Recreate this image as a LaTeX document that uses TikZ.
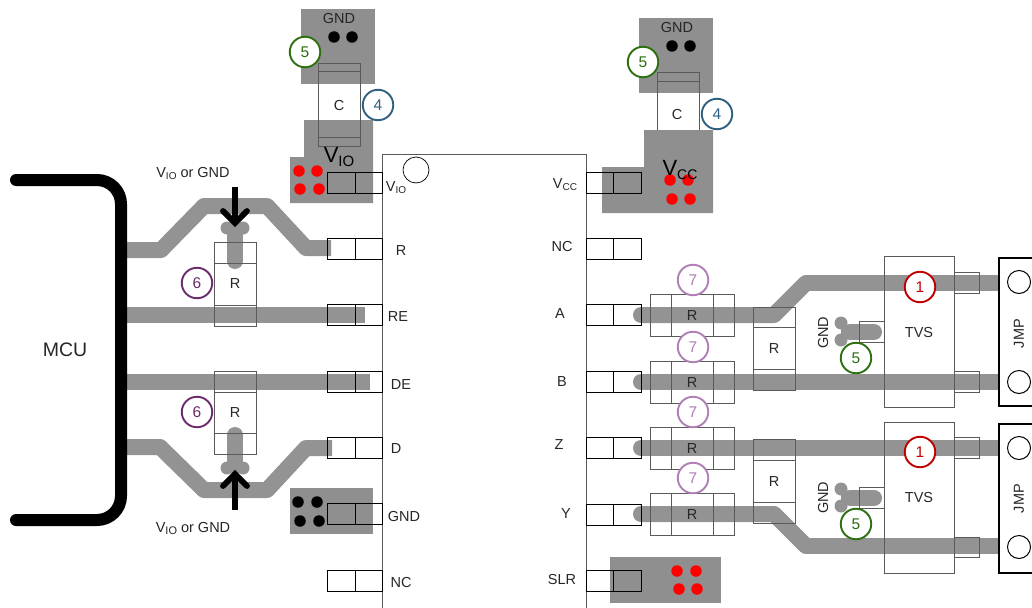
\documentclass[tikz,border=0pt]{standalone}
\usepackage{fontspec}
\setmainfont{Liberation Sans}
\usetikzlibrary{calc}
\definecolor{padgray}{HTML}{8F8F8F}
\definecolor{tracegray}{HTML}{939393}
\definecolor{partline}{HTML}{5A5A5A}
\definecolor{cgreen}{HTML}{2E7010}
\definecolor{cblue}{HTML}{2F6080}
\definecolor{cpurple}{HTML}{6B2C6E}
\definecolor{clilac}{HTML}{B07FB5}
\definecolor{cred}{HTML}{C00000}
\tikzset{
  pad/.style={fill=padgray,draw=none},
  tracewire/.style={draw=tracegray,line width=16pt,line join=round},
  roundwire/.style={tracewire,line cap=round},
  part/.style={draw=partline,line width=0.9pt},
  pinbox/.style={draw=black,line width=0.9pt},
  via/.style={circle,inner sep=0pt,minimum size=11.5pt},
  redvia/.style={via,fill=red},
  blackvia/.style={via,fill=black},
  bulb/.style={circle,inner sep=0pt,minimum size=13pt,fill=tracegray},
  label/.style={font=\fontsize{14.5}{16}\selectfont,inner sep=0pt,text=black!85,yshift=-0.7pt},
  biglabel/.style={font=\fontsize{22}{24}\selectfont,inner sep=0pt,text=black},
  badge/.style={circle,draw=#1,text=#1,fill=white,line width=1.9pt,minimum size=30.5pt,inner sep=0pt,font=\fontsize{15.5}{17}\selectfont},
  openpad/.style={circle,draw=black,fill=white,line width=1pt,inner sep=0pt,minimum size=23pt},
  thickarrow/.style={draw=black,line width=5.8pt},
}
\newcommand{\pinL}[2]{% y-centre, name : left-hand pin
  \draw[pinbox] (327,#1-10.5) rectangle (382,#1+10.5) (355,#1-10.5) -- (355,#1+10.5);
  \coordinate (#2) at (327,#1);}
\newcommand{\pinR}[2]{%
  \draw[pinbox] (586,#1-10.5) rectangle (641,#1+10.5) (613,#1-10.5) -- (613,#1+10.5);
  \coordinate (#2) at (641,#1);}
\newcommand{\hres}[1]{% three-part horizontal resistor, y-centre
  \draw[part] (650,#1-21) rectangle (734,#1+21) (671,#1-21) -- (671,#1+21) (713,#1-21) -- (713,#1+21);
  \node[label] at (692,#1) {R};}
\begin{document}
\begin{tikzpicture}[x=1pt,y=-1pt]
\useasboundingbox (0,0) rectangle (1032,607);
% copper pads
\fill[pad] (301,9) rectangle (375,84);
\fill[pad] (639,18) rectangle (713,93);
\draw[part] (657,72) rectangle (699,135) (657,81) -- (699,81);
\fill[pad] (304,120) -- (373,120) -- (373,203) -- (290,203) -- (290,157) -- (304,157) -- cycle;
\fill[pad] (644,130) -- (713,130) -- (713,213) -- (602,213) -- (602,167) -- (644,167) -- cycle;
\fill[pad] (290,488) rectangle (373,534);
\fill[pad] (610,557) rectangle (721,603);
% vias
\foreach \n/\a/\b in {a/334/37,b/352/37,c/672/46,d/690/46,e/298/502,f/317/502,g/300/521,h/319/521}
  \node[blackvia] (bv\n) at (\a,\b) {};
\foreach \n/\a/\b in {a/299/171,b/317/171,c/300/189,d/319/189,e/670/180,f/688/180,g/672/199,h/690/199,i/677/571,j/696/571,k/679/589,l/697/589}
  \node[redvia] (rv\n) at (\a,\b) {};
% traces
\draw[tracewire] (127,250) -- (161,250) -- (204,206) -- (267,206) -- (306,248) -- (331,248);
\draw[tracewire] (127,315) -- (365,315);
\draw[tracewire] (127,381.5) -- (370,381.5);
\draw[tracewire] (127,447) -- (160,447) -- (204,490) -- (267,490) -- (306,448) -- (332,448);
\draw[roundwire] (641,315) -- (774,315) -- (806,283);
\draw[tracewire] (806,283) -- (998,283);
\draw[roundwire] (641,382) -- (700,382);
\draw[tracewire] (700,382) -- (998,382);
\draw[roundwire] (641,448) -- (700,448);
\draw[tracewire] (700,448) -- (998,448);
\draw[roundwire] (641,514) -- (774,514) -- (806,546);
\draw[tracewire] (806,546) -- (998,546);
% stubs
\draw[roundwire] (235,261) -- (235,230);
\node[bulb] (sa) at (227,228) {}; \node[bulb] (sb) at (243,228) {};
\draw[roundwire] (235,435) -- (235,466);
\node[bulb] (sc) at (227,468) {}; \node[bulb] (sd) at (243,468) {};
\draw[roundwire] (874,332) -- (850,332);
\node[bulb] (se) at (841,323) {}; \node[bulb] (sf) at (841,340) {};
\fill[tracegray] (841,323) -- (852,326) -- (852,338) -- (841,340) -- cycle;
\draw[roundwire] (874,498) -- (850,498);
\node[bulb] (sg) at (841,489) {}; \node[bulb] (sh) at (841,506) {};
\fill[tracegray] (841,489) -- (852,492) -- (852,504) -- (841,506) -- cycle;
% C parts
\draw[part] (318,63) rectangle (360,146) (318,71) -- (360,71) (318,137) -- (360,137);
% left resistors
\draw[part] (214,242) rectangle (256,326) (214,263) -- (256,263) (214,305) -- (256,305);
\draw[part] (214,371) rectangle (256,454) (214,392) -- (256,392) (214,433) -- (256,433);
% IC body
\draw[draw=partline,line width=0.9pt] (382,620) -- (382,154) -- (586,154) -- (586,620);
\node[circle,draw=black,line width=0.7pt,inner sep=0pt,minimum size=26pt] (pin1) at (416,170) {};
% pins
\pinL{183}{pVIO}\pinL{248.5}{pR}\pinL{315}{pRE}\pinL{381.5}{pDE}\pinL{447.5}{pD}\pinL{514}{pGND}\pinL{580.5}{pNC}
\pinR{183}{pVCC}\pinR{248.5}{pNCb}\pinR{315}{pA}\pinR{381.5}{pB}\pinR{447.5}{pZ}\pinR{514.5}{pY}\pinR{580.5}{pSLR}
% right resistors
\hres{315}\hres{382}\hres{448}\hres{514}
\draw[part] (753,307) rectangle (795,390) (753,327) -- (795,327) (753,369) -- (795,369);
\draw[part] (753,439) rectangle (795,523) (753,460) -- (795,460) (753,502) -- (795,502);
% TVS
\draw[part] (884,256) rectangle (954,407);
\draw[part] (884,422) rectangle (954,573);
\draw[part] (954,272) rectangle (979,293) (954,371) rectangle (979,392);
\draw[part] (954,437) rectangle (979,458) (954,537) rectangle (979,557);
\draw[part] (859,321) rectangle (884,342);
\draw[part] (859,487) rectangle (884,508);
% jumpers
\draw[black,line width=1.6pt] (1040,258) -- (999,258) -- (999,406) -- (1040,406);
\draw[black,line width=1.6pt] (1040,424) -- (999,424) -- (999,573) -- (1040,573);
\node[openpad] (ja) at (1019,282) {}; \node[openpad] (jb) at (1019,382) {};
\node[openpad] (jc) at (1019,448) {}; \node[openpad] (jd) at (1019,547) {};
% MCU bracket
\draw[black,line width=12pt,line cap=round,rounded corners=24pt] (16,180) -- (121,180) -- (121,520) -- (16,520);
% arrows
\coordinate (atop) at (235,187);
\coordinate (atip) at (235,224);
\draw[thickarrow] (atop) -- (atip);
\draw[thickarrow,line cap=round,line join=miter] (223,211) -- (235,223) -- (247,211);
\coordinate (abot) at (235,510);
\coordinate (atipb) at (235,474);
\draw[thickarrow] (abot) -- (atipb);
\draw[thickarrow,line cap=round,line join=miter] (223,486) -- (235,474) -- (247,486);
% text
\node[font=\fontsize{19.5}{22}\selectfont,inner sep=0pt,text=black!85] (mcu) at (65,349.5) {MCU};
\node[label] (g1) at (339,18) {GND};
\node[label] (g2) at (677,27) {GND};
\node[label] (c1) at (339,105) {C};
\node[label] (c2) at (677,114) {C};
\node[biglabel] (bv1) at (339,157) {V\raisebox{-0.4ex}{\fontsize{15}{17}\selectfont IO}};
\node[biglabel] (bv2) at (680,170) {V\raisebox{-0.4ex}{\fontsize{14}{17}\selectfont CC}};
\node[label] (vg1) at (193,173) {V\raisebox{-0.3ex}{\fontsize{10}{12}\selectfont IO} or GND};
\node[label] (vg2) at (193,528) {V\raisebox{-0.3ex}{\fontsize{11}{12}\selectfont IO} or GND};
\node[label] at (235,283) {R};
\node[label] at (235,412) {R};
\node[label] at (396,187) {V\raisebox{-0.3ex}{\fontsize{10}{12}\selectfont IO}};
\node[label] at (401,250) {R};
\node[label] at (398,316) {RE};
\node[label] at (401,384) {DE};
\node[label] at (396,448) {D};
\node[label] at (404,516) {GND};
\node[label] at (401,582) {NC};
\node[label] at (565,184) {V\raisebox{-0.3ex}{\fontsize{10}{12}\selectfont CC}};
\node[label] at (562,246) {NC};
\node[label] at (560,313) {A};
\node[label] at (562,381) {B};
\node[label] at (559,444) {Z};
\node[label] at (566,513) {Y};
\node[label] at (562,579) {SLR};
\node[label] at (774,348) {R};
\node[label] at (774,481) {R};
\node[label] at (919,332) {TVS};
\node[label] at (919,497) {TVS};
\node[label,rotate=90] at (823,332) {GND};
\node[label,rotate=90] at (823,497) {GND};
\node[label,rotate=90] at (1019,333) {JMP};
\node[label,rotate=90] at (1019,498) {JMP};
% badges
\node[badge=cgreen] (b5a) at (305,52) {5};
\node[badge=cgreen] (b5b) at (643,62) {5};
\node[badge=cgreen] (b5c) at (856,358) {5};
\node[badge=cgreen] (b5d) at (856,524) {5};
\node[badge=cblue] (b4a) at (378,105) {4};
\node[badge=cblue] (b4b) at (717,114) {4};
\node[badge=cpurple] (b6a) at (197,283) {6};
\node[badge=cpurple] (b6b) at (197,412) {6};
\node[badge=clilac] (b7a) at (693,280) {7};
\node[badge=clilac] (b7b) at (693,347) {7};
\node[badge=clilac] (b7c) at (693,412) {7};
\node[badge=clilac] (b7d) at (693,478) {7};
\node[badge=cred] (b1a) at (920,287) {1};
\node[badge=cred] (b1b) at (920,452) {1};
\end{tikzpicture}
\end{document}
